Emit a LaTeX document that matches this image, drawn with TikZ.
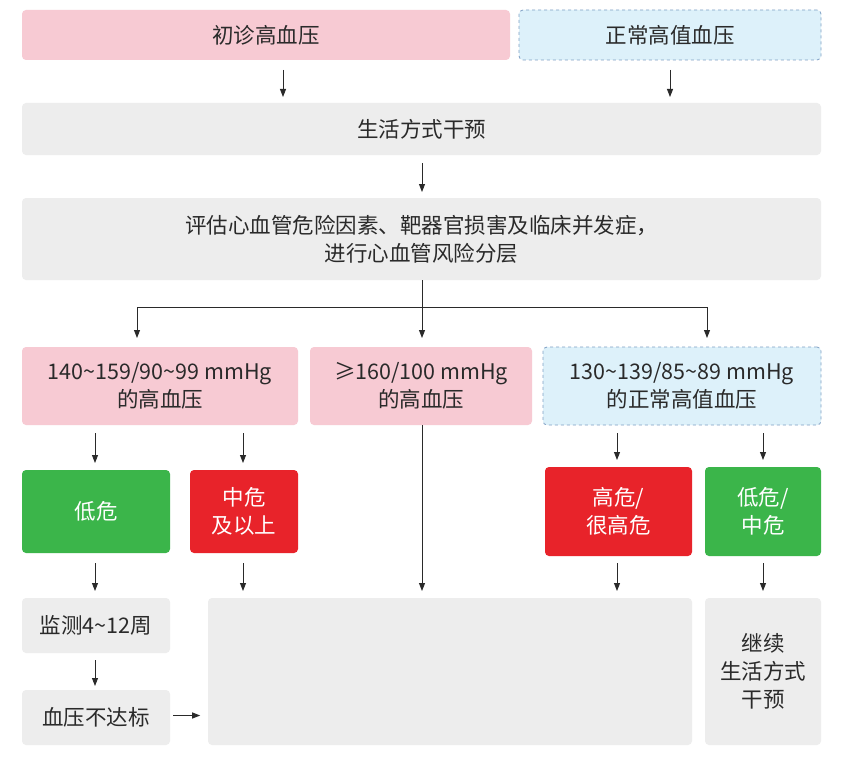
\documentclass[tikz,border=0pt]{standalone}
\usepackage{fontspec}
\setmainfont{Noto Sans CJK SC}
\usetikzlibrary{arrows.meta}
\definecolor{pinkc}{HTML}{F7CAD3}
\definecolor{bluec}{HTML}{DDF1FA}
\definecolor{blueb}{HTML}{7F9FC4}
\definecolor{grayc}{HTML}{EDEDED}
\definecolor{greenc}{HTML}{3BB54A}
\definecolor{redc}{HTML}{E8232A}
\definecolor{txt}{HTML}{2A2A2A}
\newcommand{\tl}{\string~}
\begin{document}
\begin{tikzpicture}[x=1pt,y=-1pt,
  bx/.style={rounded corners=4pt,inner sep=0pt,align=center,font=\fontsize{21.5}{28}\selectfont,text=txt},
  pk/.style={bx,fill=pinkc},
  bl/.style={bx,fill=bluec,draw=blueb,dashed,line width=0.8pt},
  gr/.style={bx,fill=grayc},
  gn/.style={bx,fill=greenc,text=white},
  rd/.style={bx,fill=redc,text=white},
  ar/.style={-{Triangle[length=8pt,width=6pt]},line width=0.9pt,draw=txt},
  ln/.style={line width=0.9pt,draw=txt}]
\fill[white] (0,0) rectangle (845,765);
\node[pk,minimum width=488pt,minimum height=50pt] (a) at (266,35) {初诊高血压};
\node[bl,minimum width=302pt,minimum height=50pt] (b) at (670,35) {正常高值血压};
\node[gr,minimum width=799pt,minimum height=52pt] (c) at (421.5,129) {生活方式干预};
\node[gr,minimum width=799pt,minimum height=82pt] (d) at (421.5,239) {评估心血管危险因素、靶器官损害及临床并发症，\\进行心血管风险分层};
\node[pk,minimum width=276pt,minimum height=78pt] (e) at (160,386) {140\tl159/90\tl99 mmHg\\的高血压};
\node[pk,minimum width=222pt,minimum height=78pt] (f) at (421,386) {≥160/100 mmHg\\的高血压};
\node[bl,minimum width=278pt,minimum height=78pt] (g) at (682,386) {130\tl139/85\tl89 mmHg\\的正常高值血压};
\node[gn,minimum width=148pt,minimum height=83pt] (h) at (96,511.5) {低危};
\node[rd,minimum width=108pt,minimum height=83pt] (i) at (244,511.5) {中危\\及以上};
\node[rd,minimum width=147pt,minimum height=89pt] (j) at (618.5,511.5) {高危/\\很高危};
\node[gn,minimum width=116pt,minimum height=89pt] (k) at (763,511.5) {低危/\\中危};
\node[gr,minimum width=148pt,minimum height=55pt] (l) at (96,625.5) {监测4\tl12周};
\node[gr,minimum width=148pt,minimum height=55pt] (m) at (96,717.5) {血压不达标};
\node[gr,minimum width=484pt,minimum height=147pt] (n) at (450,671.5) {};
\node[gr,minimum width=116pt,minimum height=147pt] (o) at (763,671.5) {继续\\生活方式\\干预};
\draw[ar] (283,70) -- (283,97);
\draw[ar] (670,70) -- (670,97);
\draw[ar] (422,163) -- (422,192);
\coordinate (s) at (422,307);
\draw[ln] (d.south -| s) -- (s);
\draw[ln] (137,307) -- (707,307);
\draw[ar] (137,307) -- (137,338);
\draw[ar] (s) -- (422,338);
\draw[ar] (707,307) -- (707,338);
\draw[ar] (95,433) -- (95,463);
\draw[ar] (243,433) -- (243,463);
\draw[ar] (617,433) -- (617,460);
\draw[ar] (763,433) -- (763,460);
\draw[ar] (95,563) -- (95,591);
\draw[ar] (243,563) -- (243,591);
\draw[ar] (f.south -| s) -- (422,591);
\draw[ar] (617,563) -- (617,591);
\draw[ar] (763,563) -- (763,591);
\draw[ar] (95,660) -- (95,686);
\draw[ar] (m.east) ++(3,-2) -- ++(27,0);
\end{tikzpicture}
\end{document}
